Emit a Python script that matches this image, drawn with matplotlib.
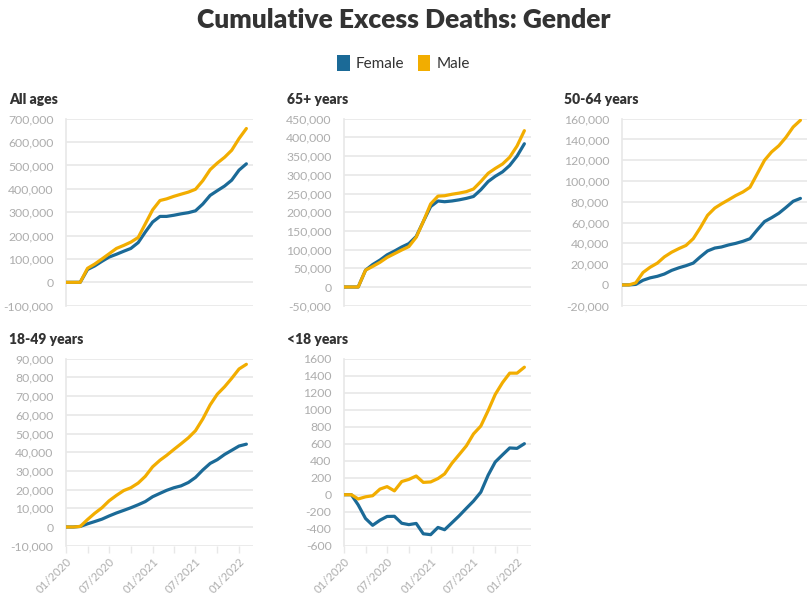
import matplotlib
matplotlib.use("Agg")
import matplotlib.pyplot as plt
import matplotlib.dates as mdates
from matplotlib.patches import Patch
from matplotlib.ticker import FuncFormatter, FixedLocator
import numpy as np
import pandas as pd

plt.rcParams['font.family'] = ['Lato', 'DejaVu Sans']

# monthly readings, Jan 2020 .. Feb 2022
dates = pd.date_range("2020-01-01", "2022-02-01", freq="MS")

all_f = [0, 0, 0, 55e3, 70e3, 90e3, 108e3, 120e3, 133e3, 145e3, 170e3, 215e3, 258e3,
         282e3, 282e3, 287e3, 293e3, 298e3, 306e3, 335e3, 372e3, 392e3, 412e3, 437e3, 480e3, 507e3]
all_m = [0, 0, 0, 60e3, 78e3, 100e3, 122e3, 145e3, 158e3, 172e3, 192e3, 250e3, 310e3,
         350e3, 357e3, 368e3, 377e3, 386e3, 398e3, 435e3, 482e3, 510e3, 535e3, 565e3, 615e3, 658e3]

old_f = [0, 0, 0, 45e3, 60e3, 72e3, 86e3, 96e3, 107e3, 116e3, 135e3, 175e3, 215e3,
         230e3, 228e3, 230e3, 233e3, 237e3, 242e3, 260e3, 282e3, 296e3, 308e3, 325e3, 350e3, 383e3]
old_m = [0, 0, 0, 45e3, 55e3, 66e3, 79e3, 89e3, 99e3, 108e3, 133e3, 175e3, 222e3,
         243e3, 244e3, 248e3, 251e3, 255e3, 262e3, 282e3, 304e3, 317e3, 329e3, 347e3, 377e3, 418e3]

mid_f = [0, 0, 500, 4.5e3, 6.8e3, 8.3e3, 10.5e3, 14e3, 16.5e3, 18.5e3, 21e3, 27e3, 32.7e3,
         35.5e3, 36.5e3, 38.5e3, 40e3, 42e3, 44.5e3, 53e3, 61e3, 64.7e3, 69e3, 74.5e3, 80.5e3, 83.3e3]
mid_m = [0, 0, 2e3, 12e3, 17e3, 21e3, 27e3, 31.5e3, 35e3, 38e3, 44.5e3, 55e3, 67e3,
         74e3, 78e3, 82e3, 86e3, 89.5e3, 94e3, 107e3, 120e3, 128e3, 134e3, 142e3, 152e3, 158.5e3]

young_f = [0, 0, 300, 1.7e3, 2.9e3, 4.2e3, 5.9e3, 7.5e3, 8.9e3, 10.3e3, 11.9e3, 13.6e3, 16.2e3,
           18e3, 19.6e3, 21e3, 22e3, 23.8e3, 26.5e3, 30.5e3, 34e3, 36e3, 38.8e3, 41e3, 43.3e3, 44.3e3]
young_m = [0, 0, 300, 4e3, 7.3e3, 10.3e3, 14e3, 16.9e3, 19.5e3, 21e3, 23.5e3, 27.1e3, 32.2e3,
           35.7e3, 38.3e3, 41.5e3, 44.5e3, 47.7e3, 51.5e3, 57.8e3, 65.3e3, 71e3, 75e3, 79.5e3, 84.5e3, 87e3]

kids_f = [0, 0, -120, -280, -360, -300, -256, -254, -336, -352, -338, -460, -470,
          -385, -412, -330, -250, -160, -75, 30, 230, 385, 470, 550, 545, 600]
kids_m = [0, 0, -50, -25, -12, 66, 95, 45, 155, 180, 220, 145, 150,
          190, 245, 370, 470, 575, 715, 808, 990, 1180, 1320, 1430, 1430, 1500]

panels = [
    ("All ages", all_f, all_m, (-100e3, 700e3), 100e3, True),
    ("65+ years", old_f, old_m, (-50e3, 450e3), 50e3, True),
    ("50-64 years", mid_f, mid_m, (-20e3, 160e3), 20e3, True),
    ("18-49 years", young_f, young_m, (-10e3, 90e3), 10e3, True),
    ("<18 years", kids_f, kids_m, (-600, 1600), 200, False),
]

BLUE = "#1b6a97"
ORANGE = "#f2ad00"
GRID = "#e8e8e8"
TICK = "#adadad"

W, H = 807, 598
fig = plt.figure(figsize=(W / 100, H / 100), dpi=100)

col_left = [66, 344, 621.7]
row_top = [118.7, 358.7]
ax_w, ax_h = 187, 187
title_x = [9, 287, 564]
title_y = [100, 340]

tick_dates = pd.date_range("2020-01-01", "2022-01-01", freq="3MS")

for i, (name, fem, mal, ylim, step, commas) in enumerate(panels):
    r, c = divmod(i, 3)
    ax = fig.add_axes([col_left[c] / W, 1 - (row_top[r] + ax_h) / H,
                       min(ax_w, W - col_left[c]) / W, ax_h / H])
    ax.plot(dates, fem, color=BLUE, lw=2.3, solid_capstyle="round", zorder=3)
    ax.plot(dates, mal, color=ORANGE, lw=2.3, solid_capstyle="round", zorder=4)

    ax.set_ylim(*ylim)
    ax.set_yticks(np.arange(ylim[0], ylim[1] + step / 2, step))
    if commas:
        ax.yaxis.set_major_formatter(FuncFormatter(lambda v, p: f"{v:,.0f}"))
    else:
        ax.yaxis.set_major_formatter(FuncFormatter(lambda v, p: f"{v:.0f}"))
    ax.set_xlim(pd.Timestamp("2020-01-01"), pd.Timestamp("2022-03-01"))

    for s in ["top", "right", "bottom"]:
        ax.spines[s].set_visible(False)
    ax.spines["left"].set_color(GRID)
    ax.spines["left"].set_linewidth(1.2)
    ax.grid(axis="y", color=GRID, lw=1.2)
    ax.set_axisbelow(True)
    ax.tick_params(axis="y", length=0, pad=9, labelsize=8.8, labelcolor=TICK)

    ax.xaxis.set_major_locator(FixedLocator(mdates.date2num(tick_dates)))
    if r == 1:
        labels = [d.strftime("%m/%Y") if d.month in (1, 7) else "" for d in tick_dates]
        ax.set_xticklabels(labels, rotation=45, ha="right", rotation_mode="anchor")
        ax.tick_params(axis="x", length=5, width=1, color=GRID, pad=2,
                       labelsize=8.2, labelcolor=TICK)
    else:
        ax.tick_params(axis="x", length=0, labelbottom=False)

    fig.text(title_x[c] / W, 1 - title_y[r] / H, name, fontsize=10, fontweight="heavy",
             color="#333333", ha="left", va="center")

fig.text(0.5, 1 - 20 / H, "Cumulative Excess Deaths: Gender", fontsize=19,
         fontweight="heavy", color="#333333", ha="center", va="center")

handles = [Patch(facecolor=BLUE, label="Female"), Patch(facecolor=ORANGE, label="Male")]
fig.legend(handles=handles, loc="center", bbox_to_anchor=(0.5, 1 - 63 / H), ncol=2,
           frameon=False, fontsize=11, handlelength=0.8, handleheight=1.2,
           handletextpad=0.4, columnspacing=0.9, labelcolor="#333333")

fig.savefig("out.png", dpi=100, facecolor="white")
